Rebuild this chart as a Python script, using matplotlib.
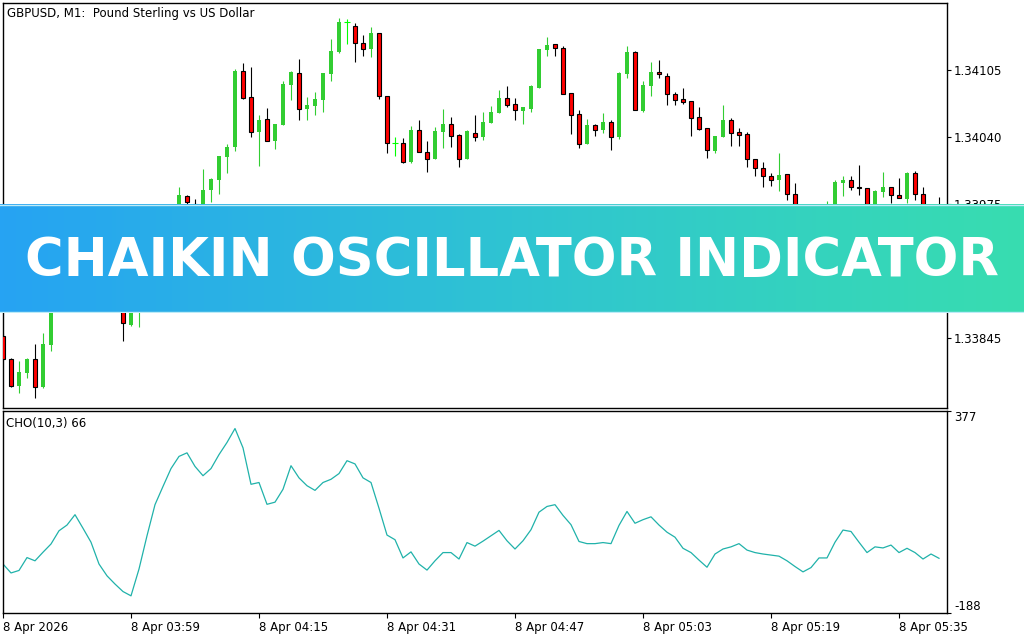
import numpy as np
import matplotlib
matplotlib.use("Agg")
import matplotlib.pyplot as plt
from matplotlib.colors import LinearSegmentedColormap

# --- chart data (GBPUSD M1, one value per bar) ---
symbol_title = "GBPUSD, M1:  Pound Sterling vs US Dollar"
indicator_title = "CHO(10,3) 66"
banner_text = "CHAIKIN OSCILLATOR INDICATOR"

opens = [
    1.33847, 1.33825, 1.33798, 1.33811, 1.33825, 1.33797, 1.33838, 1.33882, 1.33900, 1.33919,
    1.33935, 1.33919, 1.33901, 1.33882, 1.33890, 1.33882, 1.33858, 1.33877, 1.33911, 1.33930,
    1.33948, 1.33961, 1.33969, 1.33983, 1.33975, 1.33971, 1.33989, 1.33998, 1.34021, 1.34030,
    1.34104, 1.34079, 1.34045, 1.34057, 1.34036, 1.34052, 1.34090, 1.34102, 1.34067, 1.34070,
    1.34076, 1.34101, 1.34122, 1.34152, 1.34148, 1.34131, 1.34125, 1.34141, 1.34080, 1.34034,
    1.34034, 1.34016, 1.34047, 1.34025, 1.34019, 1.34045, 1.34053, 1.34042, 1.34019, 1.34044,
    1.34040, 1.34054, 1.34063, 1.34078, 1.34072, 1.34065, 1.34067, 1.34088, 1.34124, 1.34130,
    1.34126, 1.34083, 1.34062, 1.34033, 1.34052, 1.34047, 1.34055, 1.34040, 1.34101, 1.34122,
    1.34065, 1.34089, 1.34103, 1.34099, 1.34082, 1.34077, 1.34075, 1.34059, 1.34049, 1.34026,
    1.34040, 1.34056, 1.34045, 1.34043, 1.34019, 1.34010, 1.34002, 1.33998, 1.34004, 1.33985,
    1.33964, 1.33955, 1.33961, 1.33964, 1.33969, 1.33995, 1.33998, 1.33991, 1.33990, 1.33971,
    1.33987, 1.33991, 1.33984, 1.33980, 1.34005, 1.33985, 1.33969, 1.33973,
]
highs = [
    1.33850, 1.33826, 1.33823, 1.33826, 1.33839, 1.33850, 1.33887, 1.33909, 1.33926, 1.33940,
    1.33942, 1.33926, 1.33906, 1.33896, 1.33895, 1.33887, 1.33896, 1.33916, 1.33935, 1.33952,
    1.33967, 1.33975, 1.33991, 1.33984, 1.33980, 1.34009, 1.34000, 1.34022, 1.34033, 1.34106,
    1.34112, 1.34108, 1.34061, 1.34068, 1.34053, 1.34094, 1.34104, 1.34116, 1.34079, 1.34084,
    1.34102, 1.34135, 1.34155, 1.34154, 1.34151, 1.34139, 1.34147, 1.34141, 1.34080, 1.34040,
    1.34039, 1.34051, 1.34056, 1.34036, 1.34050, 1.34067, 1.34059, 1.34043, 1.34047, 1.34061,
    1.34064, 1.34070, 1.34086, 1.34089, 1.34078, 1.34069, 1.34090, 1.34125, 1.34137, 1.34130,
    1.34128, 1.34083, 1.34066, 1.34057, 1.34053, 1.34063, 1.34056, 1.34103, 1.34128, 1.34123,
    1.34094, 1.34113, 1.34115, 1.34102, 1.34084, 1.34088, 1.34075, 1.34069, 1.34049, 1.34041,
    1.34071, 1.34058, 1.34049, 1.34045, 1.34019, 1.34016, 1.34005, 1.34024, 1.34004, 1.33995,
    1.33969, 1.33967, 1.33973, 1.33978, 1.33998, 1.34002, 1.34002, 1.34013, 1.33990, 1.33989,
    1.34006, 1.33991, 1.34000, 1.34006, 1.34007, 1.33991, 1.33975, 1.33982,
]
lows = [
    1.33824, 1.33797, 1.33792, 1.33806, 1.33787, 1.33796, 1.33832, 1.33878, 1.33895, 1.33913,
    1.33911, 1.33894, 1.33876, 1.33874, 1.33872, 1.33842, 1.33857, 1.33856, 1.33905, 1.33923,
    1.33940, 1.33956, 1.33965, 1.33974, 1.33967, 1.33967, 1.33977, 1.33985, 1.34005, 1.34026,
    1.34077, 1.34040, 1.34012, 1.34036, 1.34028, 1.34052, 1.34076, 1.34056, 1.34056, 1.34061,
    1.34064, 1.34094, 1.34121, 1.34130, 1.34113, 1.34119, 1.34118, 1.34077, 1.34024, 1.34022,
    1.34015, 1.34015, 1.34025, 1.34006, 1.34019, 1.34029, 1.34030, 1.34011, 1.34019, 1.34036,
    1.34037, 1.34054, 1.34063, 1.34069, 1.34056, 1.34053, 1.34064, 1.34088, 1.34119, 1.34119,
    1.34082, 1.34043, 1.34029, 1.34033, 1.34041, 1.34044, 1.34027, 1.34038, 1.34097, 1.34066,
    1.34064, 1.34080, 1.34097, 1.34071, 1.34071, 1.34072, 1.34041, 1.34047, 1.34020, 1.34024,
    1.34040, 1.34031, 1.34031, 1.34011, 1.34002, 1.33991, 1.33992, 1.33988, 1.33979, 1.33958,
    1.33948, 1.33950, 1.33955, 1.33959, 1.33965, 1.33983, 1.33989, 1.33984, 1.33965, 1.33967,
    1.33982, 1.33976, 1.33981, 1.33976, 1.33979, 1.33964, 1.33965, 1.33965,
]
closes = [
    1.33825, 1.33798, 1.33812, 1.33825, 1.33797, 1.33839, 1.33882, 1.33901, 1.33919, 1.33935,
    1.33919, 1.33901, 1.33882, 1.33890, 1.33877, 1.33859, 1.33892, 1.33911, 1.33930, 1.33948,
    1.33961, 1.33973, 1.33984, 1.33977, 1.33971, 1.33989, 1.33999, 1.34022, 1.34030, 1.34104,
    1.34078, 1.34045, 1.34056, 1.34036, 1.34053, 1.34091, 1.34103, 1.34067, 1.34071, 1.34077,
    1.34102, 1.34123, 1.34152, 1.34152, 1.34131, 1.34125, 1.34141, 1.34080, 1.34034, 1.34034,
    1.34016, 1.34047, 1.34025, 1.34019, 1.34046, 1.34053, 1.34041, 1.34019, 1.34046, 1.34040,
    1.34055, 1.34064, 1.34078, 1.34071, 1.34066, 1.34069, 1.34089, 1.34125, 1.34129, 1.34126,
    1.34082, 1.34061, 1.34033, 1.34052, 1.34047, 1.34055, 1.34040, 1.34102, 1.34122, 1.34066,
    1.34090, 1.34103, 1.34101, 1.34082, 1.34076, 1.34074, 1.34058, 1.34048, 1.34027, 1.34041,
    1.34056, 1.34044, 1.34042, 1.34019, 1.34010, 1.34002, 1.33998, 1.34003, 1.33985, 1.33964,
    1.33955, 1.33961, 1.33967, 1.33971, 1.33996, 1.33998, 1.33991, 1.33990, 1.33969, 1.33988,
    1.33991, 1.33984, 1.33981, 1.34005, 1.33985, 1.33969, 1.33971, 1.33969,
]
cho = [
    -51, -76, -69, -33, -42, -18, 5, 42, 58, 87,
    49, 10, -51, -84, -107, -128, -140, -65, 28, 115,
    166, 216, 250, 260, 222, 196, 216, 255, 289, 328,
    274, 172, 177, 116, 122, 158, 224, 190, 168, 155,
    177, 186, 202, 238, 229, 190, 177, 105, 30, 17,
    -34, -17, -51, -68, -42, -19, -19, -37, 9, -1,
    13, 28, 43, 14, -9, 14, 45, 94, 110, 115,
    85, 59, 12, 6, 6, 9, 6, 57, 96, 63,
    73, 81, 58, 38, 24, -7, -19, -40, -60, -23,
    -9, -3, 6, -12, -19, -23, -26, -29, -42, -58,
    -73, -61, -34, -34, 10, 44, 40, 10, -19, -3,
    -6, 2, -19, -7, -19, -37, -23, -35,
]

time_tick_bars = [0, 16, 32, 48, 64, 80, 96, 112]
time_labels = ["8 Apr 2026", "8 Apr 03:59", "8 Apr 04:15", "8 Apr 04:31",
               "8 Apr 04:47", "8 Apr 05:03", "8 Apr 05:19", "8 Apr 05:35"]
# 1.33910 sits fully under the banner in the reference, so it is left out
price_ticks = [1.34105, 1.34040, 1.33975, 1.33845]
cho_ticks = [-188, 377]

BULL = "#32CD32"
BEAR = "#FF0000"
DOJI = "#00FF00"
CHO_COLOR = "#20B2AA"
W, H = 1024, 640


def draw_candles(ax, o_list, h_list, l_list, c_list):
    """Draw MT5 style candles: green bodies, red bodies with black outline."""
    for i, (o, h, l, c) in enumerate(zip(o_list, h_list, l_list, c_list)):
        if abs(c - o) < 5e-6:
            ax.vlines(i, l, h, color=DOJI, lw=0.8)
            ax.hlines(o, i - 0.32, i + 0.32, color=DOJI, lw=0.8)
        elif c > o:
            ax.vlines(i, l, h, color=BULL, lw=0.8)
            ax.bar(i, c - o, 0.62, bottom=o, color=BULL, lw=0)
        else:
            ax.vlines(i, l, h, color="black", lw=0.8, zorder=2)
            ax.bar(i, o - c, 0.5, bottom=c, facecolor=BEAR, edgecolor="black",
                   lw=0.8, zorder=3)


def style_axes(ax):
    for sp in ax.spines.values():
        sp.set_color("black")
        sp.set_linewidth(1.0)
    ax.yaxis.tick_right()
    ax.tick_params(axis="y", direction="out", length=3, width=0.8, pad=2,
                   labelsize=8.5, colors="black")


fig = plt.figure(figsize=(W / 100, H / 100), dpi=100)
fig.patch.set_facecolor("white")

n_bars = len(closes)

# main price window
ax1 = fig.add_axes([3 / W, 1 - 408 / H, 944 / W, 405 / H])
draw_candles(ax1, opens, highs, lows, closes)
ax1.set_xlim(0, 118)
ax1.set_ylim(1.33777, 1.34170)
style_axes(ax1)
ax1.set_yticks(price_ticks)
ax1.set_yticklabels([f"{p:.5f}" for p in price_ticks])
ax1.tick_params(axis="x", bottom=False, labelbottom=False)
ax1.text(4 / 944, 1 - 10 / 405, symbol_title, transform=ax1.transAxes,
         fontsize=8.5, va="center", ha="left")

# Chaikin oscillator sub window
ax2 = fig.add_axes([3 / W, 1 - 613 / H, 944 / W, 202 / H])
ax2.plot(np.arange(n_bars), cho, color=CHO_COLOR, lw=0.9)
ax2.set_xlim(0, 118)
ax2.set_ylim(cho_ticks[0], cho_ticks[1])
style_axes(ax2)
ax2.set_yticks(cho_ticks)
ax2.set_yticklabels([str(v) for v in cho_ticks])
lbls = ax2.get_yticklabels()
lbls[0].set_verticalalignment("bottom")
lbls[1].set_verticalalignment("top")
ax2.set_xticks(time_tick_bars)
ax2.set_xticklabels(time_labels)
ax2.tick_params(axis="x", direction="out", length=3.5, width=0.8, pad=2,
                labelsize=8.5)
for t in ax2.get_xticklabels():
    t.set_horizontalalignment("left")
ax2.text(3 / 944, 1 - 12 / 202, indicator_title, transform=ax2.transAxes,
         fontsize=8.5, va="center", ha="left")

# banner across the chart
axb = fig.add_axes([0, 1 - 313 / H, 1, 109 / H], zorder=10)
cmap = LinearSegmentedColormap.from_list("banner", ["#26A3F3", "#2FC4D2", "#38DDB0"])
grad = np.linspace(0, 1, 512).reshape(1, -1)
axb.imshow(grad, aspect="auto", cmap=cmap, extent=[0, 1, 0, 1])
axb.axhline(0.995, color="#BDEBF7", lw=1.0)
axb.axhline(0.005, color="#BDEBF7", lw=1.0)
axb.set_xlim(0, 1)
axb.set_ylim(0, 1)
axb.axis("off")

bt = axb.text(512 / W, 1 - 276 / H, banner_text, transform=fig.transFigure,
              ha="center", va="baseline", color="white", fontsize=40,
              fontfamily="DejaVu Sans", fontweight="bold")
fig.canvas.draw()
bb = bt.get_window_extent()
bt.set_fontsize(40 * 972 / bb.width)

fig.savefig("out.png", dpi=100)
